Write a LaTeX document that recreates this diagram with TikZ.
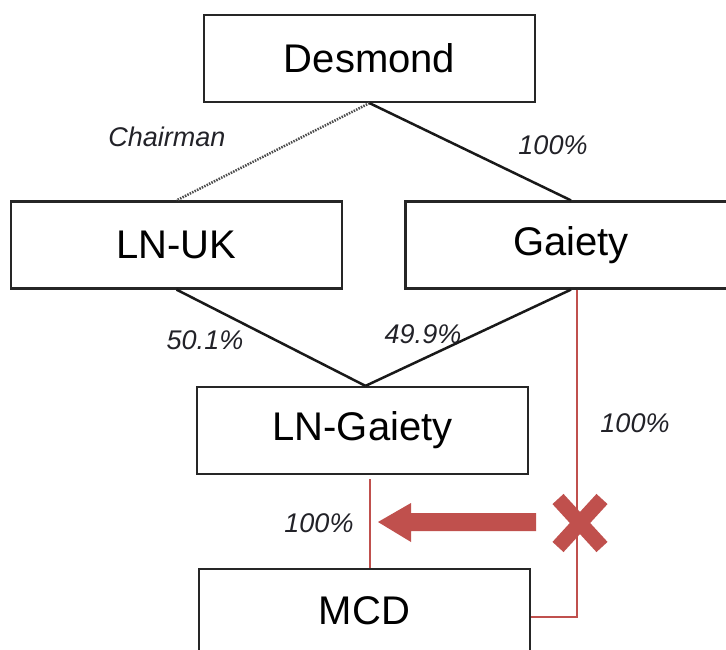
\documentclass[tikz,border=0pt]{standalone}
\usepackage{fontspec}
\setmainfont{Liberation Sans}
\usetikzlibrary{calc}
\definecolor{accred}{HTML}{C0504D}
\definecolor{lbl}{HTML}{222228}
\tikzset{
  orgbox/.style={draw=black!85, line width=2.2pt, minimum width=331pt, minimum height=87pt, inner sep=0pt, font=\fontsize{40}{48}\selectfont},
  pct/.style={text=lbl, font=\fontsize{27}{32}\selectfont\itshape, inner sep=0pt},
  link/.style={draw=black!90, line width=2.5pt},
  dotlink/.style={draw=black!70, line width=2.5pt, dash pattern=on 1.5pt off 1.2pt},
  redlink/.style={draw=accred, line width=2pt},
}
\begin{document}
\begin{tikzpicture}[x=1pt,y=-1pt]
\useasboundingbox (0,0) rectangle (726,650);
\clip (0,0) rectangle (726,650);
\fill[white] (0,0) rectangle (726,650);
% boxes
\node[orgbox] (desmond) at (369.5,58.5) {Desmond};
\node[orgbox] (lnuk) at (176.5,245) {LN-UK};
\node[orgbox] (gaiety) at (571,245) {Gaiety};
\node[orgbox] (lngaiety) at (362.5,430.5) {LN-Gaiety};
\node[orgbox, minimum height=96pt] (mcd) at (364.5,617) {\raisebox{12pt}{MCD}};
% connectors
\draw[dotlink] (desmond.south) -- (lnuk.north);
\draw[link] (desmond.south) -- (gaiety.north);
\draw[link] (lnuk.south) -- ([xshift=3pt]lngaiety.north);
\draw[link] (gaiety.south) -- ([xshift=3pt]lngaiety.north);
\draw[redlink] ([xshift=6pt]gaiety.south) |- (mcd.east);
\coordinate (rtop) at ([xshift=7pt,yshift=-4pt]lngaiety.south);
\draw[redlink] (rtop) -- (rtop |- mcd.north);
% labels
\node[pct] (lchair) at (167,137) {Chairman};
\node[pct] (l100a) at (553,145) {100\%};
\node[pct] (l501) at (205,340) {50.1\%};
\node[pct] (l499) at (423,334) {49.9\%};
\node[pct] (l100b) at (635,423) {100\%};
\node[pct] (l100c) at (319,523) {100\%};
% big arrow
\fill[accred] (536,513) -- (411,513) -- (411,503) -- (378,522) -- (411,542) -- (411,531) -- (536,531) -- cycle;
% cross
\coordinate (xc) at (580,523);
\draw[accred, line width=15pt] ($(xc)+(-22,-24)$) -- ($(xc)+(22,24)$);
\draw[accred, line width=15pt] ($(xc)+(-22,24)$) -- ($(xc)+(22,-24)$);
\end{tikzpicture}
\end{document}
